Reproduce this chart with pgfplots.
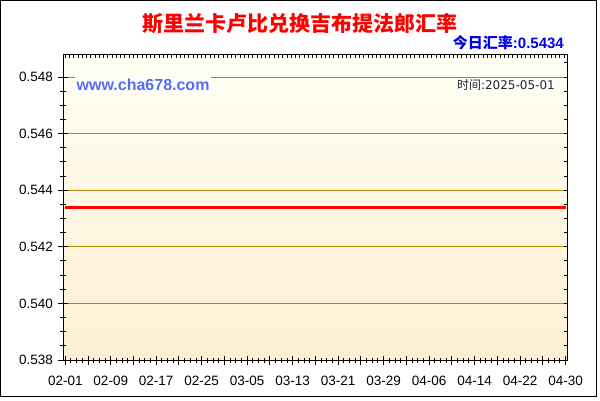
\documentclass[border=0pt]{standalone}
\usepackage{pgfplots}
\pgfplotsset{compat=1.18}
\usepackage{fontspec}
\setmainfont{Liberation Sans}
\newfontfamily\cjk{Noto Sans CJK SC}
\newfontfamily\dejavu{DejaVu Sans}
\definecolor{gridgold}{RGB}{184,134,11}
\definecolor{bgtop}{RGB}{255,255,244}
\definecolor{bgbot}{RGB}{253,239,211}
\definecolor{siteblue}{RGB}{85,110,240}
\definecolor{rateblue}{RGB}{0,0,235}
\begin{document}
\begin{tikzpicture}
\useasboundingbox (0,0) rectangle (600pt,400pt);
\fill[white] (0,0) rectangle (600pt,400pt);
\draw[black, line width=1pt] (0.5pt,3.5pt) rectangle (596.5pt,399.5pt);
\begin{axis}[
  at={(63pt,40pt)}, anchor=south west,
  width=504pt, height=305pt, scale only axis,
  xmin=-0.4, xmax=88.25, ymin=0.538, ymax=0.54878,
  axis background/.style={top color=bgtop, bottom color=bgbot},
  axis line style={black, line width=1pt},
  xtick={0,4,...,88},
  xticklabels={02-01,,02-09,,02-17,,02-25,,03-05,,03-13,,03-21,,03-29,,04-06,,04-14,,04-22,,04-30},
  minor x tick num=3,
  ytick={0.538,0.540,...,0.548},
  minor y tick num=3,
  xtick pos=left, ytick pos=left,
  tick align=center,
  major tick length=9pt, minor tick length=5pt,
  tick style={black, line width=1pt},
  ymajorgrids,
  major grid style={gridgold, line width=1pt},
  /pgf/number format/assume math mode=true,
  yticklabel style={/pgf/number format/fixed, /pgf/number format/precision=3, /pgf/number format/fixed zerofill, xshift=-2pt},
  xticklabel style={yshift=-8pt},
  scaled y ticks=false,
  tick label style={font=\fontsize{13.5}{15}\selectfont},
]
\addplot[red, line width=3pt] coordinates {
(0,0.5434) (1,0.5434) (2,0.5434) (3,0.5434) (4,0.5434) (5,0.5434) (6,0.5434) (7,0.5434) (8,0.5434) (9,0.5434)
(10,0.5434) (11,0.5434) (12,0.5434) (13,0.5434) (14,0.5434) (15,0.5434) (16,0.5434) (17,0.5434) (18,0.5434) (19,0.5434)
(20,0.5434) (21,0.5434) (22,0.5434) (23,0.5434) (24,0.5434) (25,0.5434) (26,0.5434) (27,0.5434) (28,0.5434) (29,0.5434)
(30,0.5434) (31,0.5434) (32,0.5434) (33,0.5434) (34,0.5434) (35,0.5434) (36,0.5434) (37,0.5434) (38,0.5434) (39,0.5434)
(40,0.5434) (41,0.5434) (42,0.5434) (43,0.5434) (44,0.5434) (45,0.5434) (46,0.5434) (47,0.5434) (48,0.5434) (49,0.5434)
(50,0.5434) (51,0.5434) (52,0.5434) (53,0.5434) (54,0.5434) (55,0.5434) (56,0.5434) (57,0.5434) (58,0.5434) (59,0.5434)
(60,0.5434) (61,0.5434) (62,0.5434) (63,0.5434) (64,0.5434) (65,0.5434) (66,0.5434) (67,0.5434) (68,0.5434) (69,0.5434)
(70,0.5434) (71,0.5434) (72,0.5434) (73,0.5434) (74,0.5434) (75,0.5434) (76,0.5434) (77,0.5434) (78,0.5434) (79,0.5434)
(80,0.5434) (81,0.5434) (82,0.5434) (83,0.5434) (84,0.5434) (85,0.5434) (86,0.5434) (87,0.5434) (88,0.5434)
};
\end{axis}
% ticks on the top and right sides, pointing inwards
\begin{axis}[
  at={(63pt,40pt)}, anchor=south west,
  width=504pt, height=305pt, scale only axis,
  xmin=-0.4, xmax=88.25, ymin=0.538, ymax=0.54878,
  axis line style={black, line width=1pt},
  xtick={0,0.75,...,88}, ytick={0.5380,0.5385,...,0.5490},
  xtick pos=right, ytick pos=right,
  xticklabels={}, yticklabels={},
  tick align=inside, major tick length=3.5pt,
  tick style={black, line width=1pt},
  scaled y ticks=false,
]
\end{axis}
\node[text=red, font=\cjk\bfseries\fontsize{21}{24}\selectfont] at (300pt,376pt) {斯里兰卡卢比兑换吉布提法郎汇率};
\node[anchor=east, text=rateblue, font=\bfseries\fontsize{15}{18}\selectfont, inner sep=0pt] at (564pt,357.5pt) {{\cjk 今日汇率}:0.5434};
\node[anchor=west, fill=white, text=siteblue, font=\bfseries\fontsize{16}{18}\selectfont, inner sep=2pt] at (74.5pt,315pt) {www.cha678.com};
\node[anchor=east, fill=white, text=black!85, font=\dejavu\fontsize{12}{14}\selectfont, inner sep=1.5pt] at (556.5pt,315pt) {{\cjk 时间}:2025-05-01};
\end{tikzpicture}
\end{document}
